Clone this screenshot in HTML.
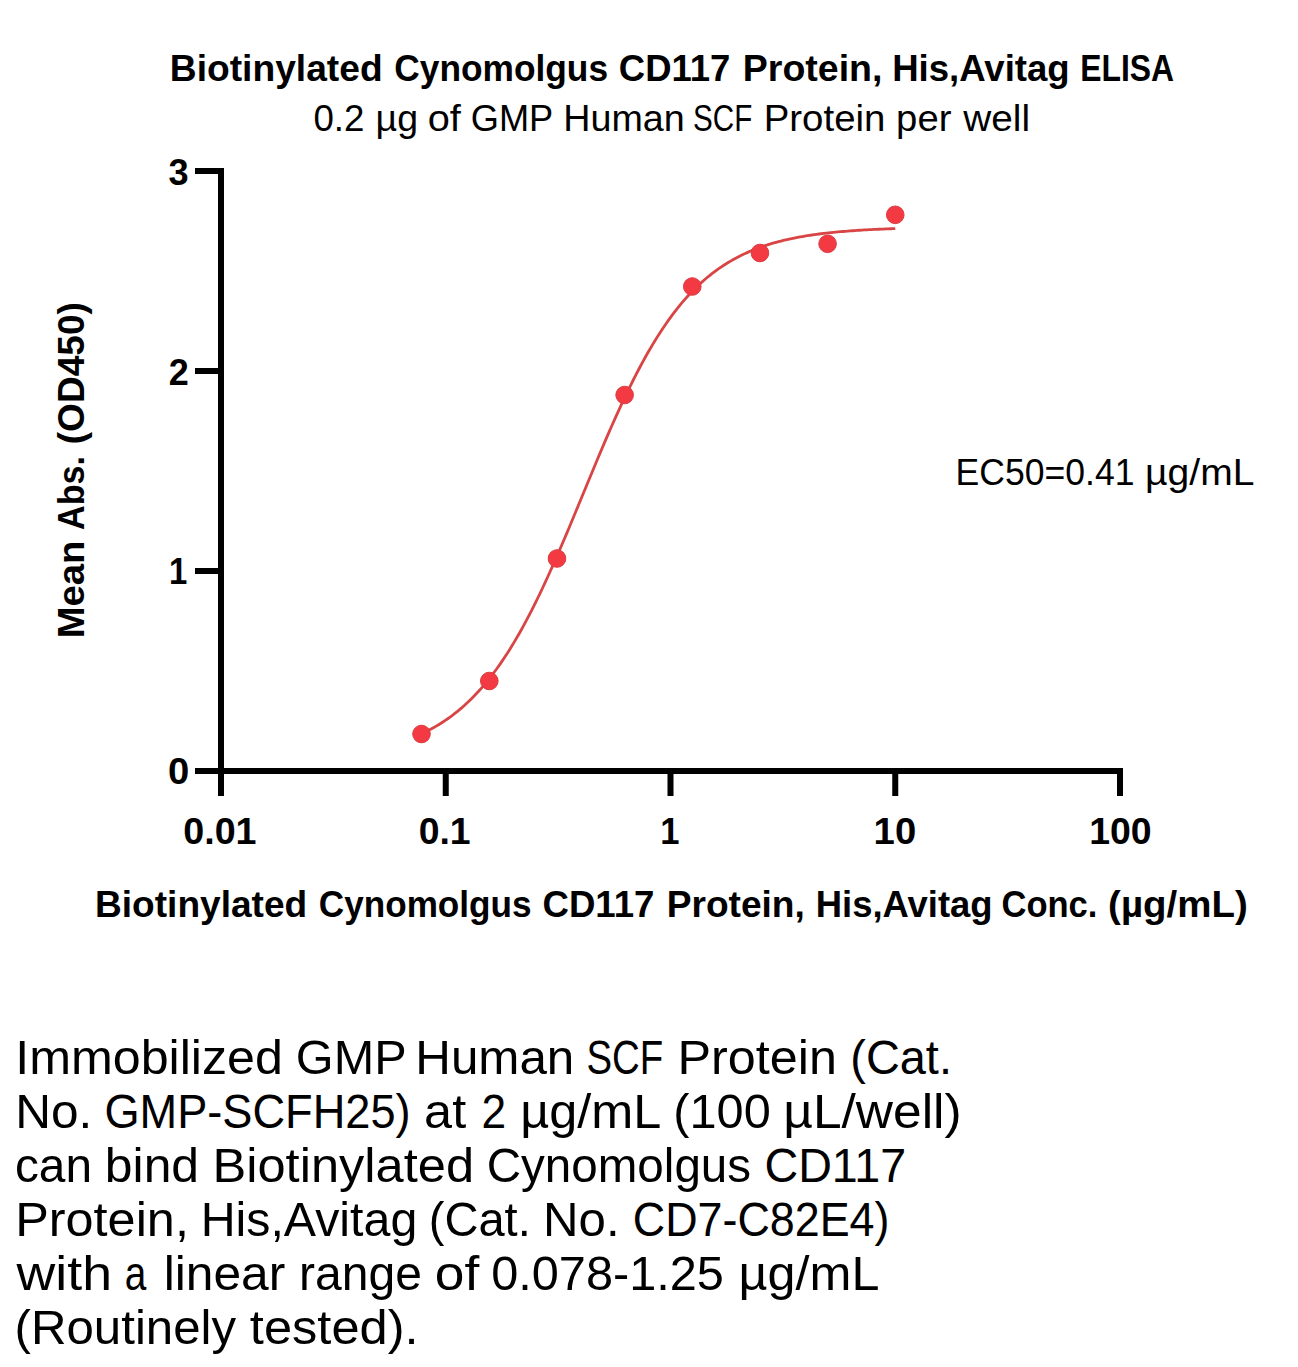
<!DOCTYPE html>
<html><head><meta charset="utf-8"><style>
html,body{margin:0;padding:0;background:#fff;}
svg{display:block;}
text{font-family:"Liberation Sans",sans-serif;fill:#000;}
</style></head><body>
<svg width="1298" height="1367" viewBox="0 0 1298 1367">
<rect width="1298" height="1367" fill="#fff"/>
<g fill="#000">
<rect x="218" y="168" width="6" height="606"/>
<rect x="195" y="768" width="29" height="6"/>
<rect x="195" y="568" width="29" height="6"/>
<rect x="195" y="368" width="29" height="6"/>
<rect x="195" y="168" width="29" height="6"/>
<rect x="195" y="768" width="928" height="6"/>
<rect x="218.00" y="768" width="6" height="28"/>
<rect x="442.75" y="768" width="6" height="28"/>
<rect x="667.50" y="768" width="6" height="28"/>
<rect x="892.25" y="768" width="6" height="28"/>
<rect x="1117.00" y="768" width="6" height="28"/>
</g>
<path d="M421.50 733.85 L423.88 732.73 L426.26 731.56 L428.64 730.34 L431.02 729.08 L433.40 727.76 L435.78 726.40 L438.16 724.99 L440.54 723.52 L442.92 721.99 L445.30 720.41 L447.69 718.77 L450.07 717.06 L452.45 715.30 L454.83 713.47 L457.21 711.57 L459.59 709.61 L461.97 707.57 L464.35 705.47 L466.73 703.29 L469.11 701.03 L471.49 698.70 L473.87 696.29 L476.25 693.80 L478.63 691.22 L481.01 688.57 L483.40 685.82 L485.78 682.99 L488.16 680.08 L490.54 677.07 L492.92 673.97 L495.30 670.78 L497.68 667.50 L500.06 664.13 L502.44 660.66 L504.82 657.09 L507.20 653.43 L509.58 649.67 L511.96 645.82 L514.34 641.87 L516.72 637.83 L519.11 633.69 L521.49 629.45 L523.87 625.12 L526.25 620.70 L528.63 616.18 L531.01 611.58 L533.39 606.89 L535.77 602.11 L538.15 597.24 L540.53 592.29 L542.91 587.26 L545.29 582.16 L547.67 576.98 L550.05 571.74 L552.43 566.42 L554.82 561.04 L557.20 555.61 L559.58 550.11 L561.96 544.57 L564.34 538.99 L566.72 533.36 L569.10 527.69 L571.48 522.00 L573.86 516.27 L576.24 510.53 L578.62 504.77 L581.00 499.00 L583.38 493.23 L585.76 487.45 L588.14 481.69 L590.53 475.93 L592.91 470.19 L595.29 464.47 L597.67 458.78 L600.05 453.12 L602.43 447.50 L604.81 441.92 L607.19 436.39 L609.57 430.90 L611.95 425.48 L614.33 420.11 L616.71 414.81 L619.09 409.57 L621.47 404.41 L623.85 399.32 L626.24 394.30 L628.62 389.37 L631.00 384.52 L633.38 379.75 L635.76 375.08 L638.14 370.49 L640.52 365.99 L642.90 361.58 L645.28 357.27 L647.66 353.05 L650.04 348.93 L652.42 344.90 L654.80 340.97 L657.18 337.13 L659.56 333.39 L661.95 329.75 L664.33 326.20 L666.71 322.75 L669.09 319.39 L671.47 316.12 L673.85 312.95 L676.23 309.87 L678.61 306.88 L680.99 303.98 L683.37 301.16 L685.75 298.44 L688.13 295.79 L690.51 293.23 L692.89 290.76 L695.27 288.36 L697.66 286.04 L700.04 283.80 L702.42 281.63 L704.80 279.54 L707.18 277.52 L709.56 275.57 L711.94 273.68 L714.32 271.86 L716.70 270.11 L719.08 268.42 L721.46 266.79 L723.84 265.21 L726.22 263.70 L728.60 262.24 L730.98 260.83 L733.36 259.48 L735.75 258.17 L738.13 256.92 L740.51 255.71 L742.89 254.55 L745.27 253.43 L747.65 252.36 L750.03 251.32 L752.41 250.33 L754.79 249.37 L757.17 248.46 L759.55 247.57 L761.93 246.73 L764.31 245.91 L766.69 245.13 L769.07 244.38 L771.46 243.65 L773.84 242.96 L776.22 242.29 L778.60 241.66 L780.98 241.04 L783.36 240.45 L785.74 239.89 L788.12 239.35 L790.50 238.82 L792.88 238.33 L795.26 237.85 L797.64 237.39 L800.02 236.94 L802.40 236.52 L804.78 236.12 L807.17 235.73 L809.55 235.35 L811.93 235.00 L814.31 234.65 L816.69 234.32 L819.07 234.01 L821.45 233.70 L823.83 233.41 L826.21 233.14 L828.59 232.87 L830.97 232.61 L833.35 232.37 L835.73 232.13 L838.11 231.91 L840.49 231.69 L842.88 231.49 L845.26 231.29 L847.64 231.10 L850.02 230.92 L852.40 230.74 L854.78 230.57 L857.16 230.41 L859.54 230.26 L861.92 230.11 L864.30 229.97 L866.68 229.84 L869.06 229.71 L871.44 229.58 L873.82 229.47 L876.20 229.35 L878.59 229.24 L880.97 229.14 L883.35 229.04 L885.73 228.94 L888.11 228.85 L890.49 228.76 L892.87 228.68 L895.25 228.60" fill="none" stroke="#D94545" stroke-width="2.8"/>
<g fill="#F33A42" stroke="#DC3A40" stroke-width="1">
<circle cx="421.50" cy="734.00" r="8.8"/>
<circle cx="489.31" cy="681.00" r="8.8"/>
<circle cx="556.97" cy="558.50" r="8.8"/>
<circle cx="624.62" cy="395.00" r="8.8"/>
<circle cx="692.28" cy="286.50" r="8.8"/>
<circle cx="759.94" cy="253.00" r="8.8"/>
<circle cx="827.59" cy="243.80" r="8.8"/>
<circle cx="895.25" cy="214.80" r="8.8"/>
</g>
<text x="169.79" y="81" font-size="37" font-weight="bold" textLength="212.87" lengthAdjust="spacingAndGlyphs">Biotinylated</text>
<text x="394.25" y="81" font-size="37" font-weight="bold" textLength="213.77" lengthAdjust="spacingAndGlyphs">Cynomolgus</text>
<text x="618.81" y="81" font-size="37" font-weight="bold" textLength="111.51" lengthAdjust="spacingAndGlyphs">CD117</text>
<text x="742.87" y="81" font-size="37" font-weight="bold" textLength="139.6" lengthAdjust="spacingAndGlyphs">Protein,</text>
<text x="892.22" y="81" font-size="37" font-weight="bold" textLength="177.41" lengthAdjust="spacingAndGlyphs">His,Avitag</text>
<text x="1080.18" y="81" font-size="37" font-weight="bold" textLength="93.86" lengthAdjust="spacingAndGlyphs">ELISA</text>
<text x="313.41" y="131" font-size="37" font-weight="normal" textLength="51.02" lengthAdjust="spacingAndGlyphs">0.2</text>
<text x="375.57" y="131" font-size="37" font-weight="normal" textLength="42.46" lengthAdjust="spacingAndGlyphs">µg</text>
<text x="427.73" y="131" font-size="37" font-weight="normal" textLength="33.12" lengthAdjust="spacingAndGlyphs">of</text>
<text x="470.74" y="131" font-size="37" font-weight="normal" textLength="82.49" lengthAdjust="spacingAndGlyphs">GMP</text>
<text x="563.24" y="131" font-size="37" font-weight="normal" textLength="121.48" lengthAdjust="spacingAndGlyphs">Human</text>
<text x="693.1" y="131" font-size="37" font-weight="normal" textLength="59.2" lengthAdjust="spacingAndGlyphs">SCF</text>
<text x="763.68" y="131" font-size="37" font-weight="normal" textLength="121.74" lengthAdjust="spacingAndGlyphs">Protein</text>
<text x="896.13" y="131" font-size="37" font-weight="normal" textLength="55.27" lengthAdjust="spacingAndGlyphs">per</text>
<text x="963.3" y="131" font-size="37" font-weight="normal" textLength="66.78" lengthAdjust="spacingAndGlyphs">well</text>
<text x="95.0" y="917" font-size="37" font-weight="bold" textLength="212.26" lengthAdjust="spacingAndGlyphs">Biotinylated</text>
<text x="318.85" y="917" font-size="37" font-weight="bold" textLength="212.66" lengthAdjust="spacingAndGlyphs">Cynomolgus</text>
<text x="542.51" y="917" font-size="37" font-weight="bold" textLength="111.92" lengthAdjust="spacingAndGlyphs">CD117</text>
<text x="666.69" y="917" font-size="37" font-weight="bold" textLength="138.16" lengthAdjust="spacingAndGlyphs">Protein,</text>
<text x="815.83" y="917" font-size="37" font-weight="bold" textLength="176.69" lengthAdjust="spacingAndGlyphs">His,Avitag</text>
<text x="1001.47" y="917" font-size="37" font-weight="bold" textLength="95.93" lengthAdjust="spacingAndGlyphs">Conc.</text>
<text x="1108.12" y="917" font-size="37" font-weight="bold" textLength="139.57" lengthAdjust="spacingAndGlyphs">(µg/mL)</text>
<text x="955.52" y="485" font-size="37" font-weight="normal" textLength="178.99" lengthAdjust="spacingAndGlyphs">EC50=0.41</text>
<text x="1145.09" y="485" font-size="37" font-weight="normal" textLength="109.32" lengthAdjust="spacingAndGlyphs">µg/mL</text>
<text x="168.52" y="184.8" font-size="37" font-weight="bold" textLength="20.12" lengthAdjust="spacingAndGlyphs">3</text>
<text x="168.63" y="384.5" font-size="37" font-weight="bold" textLength="20.01" lengthAdjust="spacingAndGlyphs">2</text>
<text x="169.02" y="584.1" font-size="37" font-weight="bold" textLength="18.29" lengthAdjust="spacingAndGlyphs">1</text>
<text x="168.07" y="784.1" font-size="37" font-weight="bold" textLength="21.26" lengthAdjust="spacingAndGlyphs">0</text>
<text x="183.28" y="843.8" font-size="37" font-weight="bold" textLength="73.25" lengthAdjust="spacingAndGlyphs">0.01</text>
<text x="418.69" y="843.8" font-size="37" font-weight="bold" textLength="51.95" lengthAdjust="spacingAndGlyphs">0.1</text>
<text x="660.13" y="843.8" font-size="37" font-weight="bold" textLength="19.21" lengthAdjust="spacingAndGlyphs">1</text>
<text x="873.63" y="843.8" font-size="37" font-weight="bold" textLength="42.56" lengthAdjust="spacingAndGlyphs">10</text>
<text x="1089.18" y="843.8" font-size="37" font-weight="bold" textLength="62.47" lengthAdjust="spacingAndGlyphs">100</text>
<text x="15.2" y="1074" font-size="49" font-weight="normal" textLength="267.7" lengthAdjust="spacingAndGlyphs">Immobilized</text>
<text x="295.81" y="1074" font-size="49" font-weight="normal" textLength="110.79" lengthAdjust="spacingAndGlyphs">GMP</text>
<text x="415.27" y="1074" font-size="49" font-weight="normal" textLength="159.01" lengthAdjust="spacingAndGlyphs">Human</text>
<text x="586.43" y="1074" font-size="49" font-weight="normal" textLength="76.73" lengthAdjust="spacingAndGlyphs">SCF</text>
<text x="677.59" y="1074" font-size="49" font-weight="normal" textLength="159.36" lengthAdjust="spacingAndGlyphs">Protein</text>
<text x="850.33" y="1074" font-size="49" font-weight="normal" textLength="101.58" lengthAdjust="spacingAndGlyphs">(Cat.</text>
<text x="15.25" y="1128" font-size="49" font-weight="normal" textLength="77.16" lengthAdjust="spacingAndGlyphs">No.</text>
<text x="104.46" y="1128" font-size="49" font-weight="normal" textLength="306.14" lengthAdjust="spacingAndGlyphs">GMP-SCFH25)</text>
<text x="424.14" y="1128" font-size="49" font-weight="normal" textLength="42.03" lengthAdjust="spacingAndGlyphs">at</text>
<text x="481.39" y="1128" font-size="49" font-weight="normal" textLength="24.66" lengthAdjust="spacingAndGlyphs">2</text>
<text x="520.21" y="1128" font-size="49" font-weight="normal" textLength="141.09" lengthAdjust="spacingAndGlyphs">µg/mL</text>
<text x="673.32" y="1128" font-size="49" font-weight="normal" textLength="97.45" lengthAdjust="spacingAndGlyphs">(100</text>
<text x="783.25" y="1128" font-size="49" font-weight="normal" textLength="178.42" lengthAdjust="spacingAndGlyphs">µL/well)</text>
<text x="14.95" y="1182" font-size="49" font-weight="normal" textLength="77.09" lengthAdjust="spacingAndGlyphs">can</text>
<text x="104.85" y="1182" font-size="49" font-weight="normal" textLength="94.24" lengthAdjust="spacingAndGlyphs">bind</text>
<text x="212.47" y="1182" font-size="49" font-weight="normal" textLength="261.57" lengthAdjust="spacingAndGlyphs">Biotinylated</text>
<text x="486.66" y="1182" font-size="49" font-weight="normal" textLength="264.46" lengthAdjust="spacingAndGlyphs">Cynomolgus</text>
<text x="764.5" y="1182" font-size="49" font-weight="normal" textLength="141.7" lengthAdjust="spacingAndGlyphs">CD117</text>
<text x="15.19" y="1236" font-size="49" font-weight="normal" textLength="173.7" lengthAdjust="spacingAndGlyphs">Protein,</text>
<text x="200.66" y="1236" font-size="49" font-weight="normal" textLength="216.59" lengthAdjust="spacingAndGlyphs">His,Avitag</text>
<text x="428.72" y="1236" font-size="49" font-weight="normal" textLength="102.0" lengthAdjust="spacingAndGlyphs">(Cat.</text>
<text x="543.08" y="1236" font-size="49" font-weight="normal" textLength="76.6" lengthAdjust="spacingAndGlyphs">No.</text>
<text x="632.87" y="1236" font-size="49" font-weight="normal" textLength="256.6" lengthAdjust="spacingAndGlyphs">CD7-C82E4)</text>
<text x="16.6" y="1290" font-size="49" font-weight="normal" textLength="95.44" lengthAdjust="spacingAndGlyphs">with</text>
<text x="124.72" y="1290" font-size="49" font-weight="normal" textLength="21.59" lengthAdjust="spacingAndGlyphs">a</text>
<text x="163.66" y="1290" font-size="49" font-weight="normal" textLength="121.62" lengthAdjust="spacingAndGlyphs">linear</text>
<text x="299.06" y="1290" font-size="49" font-weight="normal" textLength="122.93" lengthAdjust="spacingAndGlyphs">range</text>
<text x="434.83" y="1290" font-size="49" font-weight="normal" textLength="44.44" lengthAdjust="spacingAndGlyphs">of</text>
<text x="491.21" y="1290" font-size="49" font-weight="normal" textLength="232.68" lengthAdjust="spacingAndGlyphs">0.078-1.25</text>
<text x="738.62" y="1290" font-size="49" font-weight="normal" textLength="140.78" lengthAdjust="spacingAndGlyphs">µg/mL</text>
<text x="14.59" y="1344" font-size="49" font-weight="normal" textLength="221.52" lengthAdjust="spacingAndGlyphs">(Routinely</text>
<text x="249.87" y="1344" font-size="49" font-weight="normal" textLength="168.7" lengthAdjust="spacingAndGlyphs">tested).</text>
<text transform="translate(84 0) rotate(-90)" x="-638.37" y="0" font-size="37" font-weight="bold" textLength="97.7" lengthAdjust="spacingAndGlyphs">Mean</text>
<text transform="translate(84 0) rotate(-90)" x="-529.92" y="0" font-size="37" font-weight="bold" textLength="73.94" lengthAdjust="spacingAndGlyphs">Abs.</text>
<text transform="translate(84 0) rotate(-90)" x="-444.3" y="0" font-size="37" font-weight="bold" textLength="142.2" lengthAdjust="spacingAndGlyphs">(OD450)</text>
</svg>
</body></html>
